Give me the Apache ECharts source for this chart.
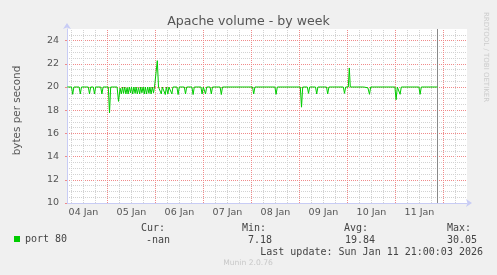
<!DOCTYPE html>
<html><head><meta charset="utf-8">
<script src="https://cdn.jsdelivr.net/npm/echarts@6/dist/echarts.min.js"></script>
<style>html,body{margin:0;padding:0;background:#f0f0f0}#c{width:497px;height:275px}</style>
</head><body><div id="c"></div>
<script>
// hours since 04 Jan 00:00
const hours = [
  3.9,
  6.0, 6.6, 7.2,
  9.8, 10.4, 11.0,
  14.4, 15.0, 15.6,
  16.9, 17.5, 18.1,
  20.6, 21.2, 21.8,
  24.4, 25.0, 25.6,
  28.8, 29.5,
  30.3, 30.9, 31.5, 32.0, 32.6, 33.2, 33.8, 34.3, 34.9, 35.5, 36.0, 36.6, 37.2, 37.8, 38.3, 38.9,
  39.5, 40.1, 40.6, 41.2, 41.8, 42.4, 42.9, 43.5, 44.1, 44.7, 45.2, 45.8, 46.4, 47.0, 47.5,
  48.3, 48.9, 49.5,
  50.4, 50.9, 51.4,
  52.4, 52.9, 53.4,
  53.7, 54.2, 54.7,
  55.7, 56.2, 56.7,
  58.7, 59.3, 59.9,
  62.4, 63.0, 63.6,
  66.2, 66.8, 67.4,
  70.7, 71.3, 71.9,
  72.4, 73.0, 73.6,
  75.3, 75.9, 76.5,
  80.3, 80.9, 81.5,
  96.5, 97.1, 97.7,
  107.7, 108.3, 108.9,
  120.4, 121.0, 121.6,
  123.9, 124.5, 125.1,
  128.0, 128.6, 129.2,
  133.5, 134.1, 134.7,
  141.9, 142.5, 143.1,
  144.4, 144.9, 145.4,
  152.1, 152.4, 154.2, 155.0, 155.6,
  167.7, 168.3, 168.9,
  169.7, 170.3, 170.9,
  179.7, 180.3, 180.9,
  189.0
];
const bytesPerSec = [
  20,
  20, 19.37, 20,
  20, 19.4, 20,
  20, 19.4, 20,
  20, 19.4, 20,
  20, 19.4, 20,
  20, 17.76, 20,
  20, 18.76,
  19.9, 19.4, 20, 19.45, 20, 19.4, 19.95, 19.4, 20, 19.5, 20, 19.4, 20, 19.45, 20, 19.4,
  19.95, 19.4, 20, 19.5, 20, 19.4, 20, 19.4, 20, 19.45, 20, 19.4, 20, 19.5, 20,
  20, 22.27, 20,
  20, 19.4, 20,
  20, 19.35, 20,
  20, 19.4, 20,
  20, 19.4, 20,
  20, 19.35, 20,
  20, 19.4, 20,
  20, 19.35, 20,
  20, 19.4, 20,
  20, 19.4, 20,
  20, 19.4, 20,
  20, 19.35, 20,
  20, 19.4, 20,
  20, 19.37, 20,
  20, 18.26, 20,
  20, 19.45, 20,
  20, 19.4, 20,
  20, 19.4, 20,
  20, 19.45, 20,
  20, 21.64, 20,
  20, 19.93, 19.93, 19.37, 20,
  20, 18.9, 20,
  20, 19.37, 20,
  20, 19.37, 20,
  20
];
const dayLabels = ['04 Jan','05 Jan','06 Jan','07 Jan','08 Jan','09 Jan','10 Jan','11 Jan'];
const dayLabelHours = [12, 36, 60, 84, 108, 132, 156, 180];
const dayBoundaryHours = [24, 48, 72, 96, 120, 144, 168, 192];
const sixHourHours = [6, 12, 18, 30, 36, 42, 54, 60, 66, 78, 84, 90, 102, 108, 114, 126, 132, 138, 150, 156, 162, 174, 180, 186, 198];
const yTickLabels = [10, 12, 14, 16, 18, 20, 22, 24];
const lastUpdateHour = 189;
const legendStats = {cur: '-nan', min: '7.18', avg: '19.84', max: '30.05'};

const SANS = '"DejaVu Sans", sans-serif';
const MONO = '"DejaVu Sans Mono", monospace';
const RED = '#f08a8a';
const GRAY = '#d2d2d2';
const AXIS = '#c8ccf5';
const TXT = '#555555';

const chart = echarts.init(document.getElementById('c'), null, {renderer: 'canvas'});
const xRange = {min: 3.75, max: 203.75};
chart.setOption({
  animation: false,
  backgroundColor: '#f0f0f0',
  textStyle: {fontFamily: SANS},
  title: {
    text: 'Apache volume - by week', left: 'center', top: 10,
    textStyle: {fontFamily: SANS, fontSize: 12.6, fontWeight: 'normal', color: TXT}
  },
  legend: {
    data: ['port 80'], left: 14, top: 234, padding: 0, icon: 'rect', itemWidth: 6, itemHeight: 6,
    selectedMode: false, textStyle: {fontFamily: MONO, fontSize: 10, color: '#444'}
  },
  grid: {left: 67, top: 29, width: 400, height: 174, show: true, backgroundColor: '#ffffff', borderWidth: 0},
  xAxis: {
    type: 'value', min: xRange.min, max: xRange.max, position: 'bottom',
    axisLine: {show: true, lineStyle: {color: AXIS, width: 1}, symbol: ['none', 'arrow'], symbolSize: [6, 6], symbolOffset: [0, 5]},
    axisTick: {show: false},
    axisLabel: {customValues: dayLabelHours, margin: 5, fontFamily: SANS, fontSize: 9.5, color: TXT,
      formatter: v => dayLabels[dayLabelHours.indexOf(Math.round(v))] || ''},
    splitLine: {show: false}
  },
  yAxis: {
    type: 'value', min: 10, max: 25, interval: 2, position: 'left',
    name: 'bytes per second', nameLocation: 'middle', nameGap: 45,
    nameTextStyle: {fontFamily: SANS, fontSize: 10.4, color: TXT, padding: [0, 0, 0, 11]},
    axisLine: {show: true, lineStyle: {color: AXIS, width: 1}, symbol: ['none', 'arrow'], symbolSize: [6, 6], symbolOffset: [0, 6]},
    axisTick: {show: true, length: 2, lineStyle: {color: RED}},
    axisLabel: {margin: 8, fontFamily: SANS, fontSize: 9.5, color: TXT, showMaxLabel: false,
      formatter: v => (yTickLabels.indexOf(v) >= 0 ? String(v) : '')},
    splitLine: {show: true, showMinLine: false, showMaxLine: false, lineStyle: {color: RED, type: [1, 1], width: 1}},
    minorTick: {show: false, splitNumber: 4},
    minorSplitLine: {show: true, lineStyle: {color: GRAY, type: [1, 1], width: 1}}
  },
  series: [{
    name: 'grid6h', type: 'line', data: [], z: 1, silent: true,
    markLine: {
      silent: true, symbol: ['none', 'none'], label: {show: false}, animation: false,
      lineStyle: {color: GRAY, type: [1, 1], width: 1},
      data: sixHourHours.map(h => ({xAxis: h}))
    }
  }, {
    name: 'gridDay', type: 'line', data: [], z: 2, silent: true,
    markLine: {
      silent: true, symbol: ['none', 'none'], label: {show: false}, animation: false,
      lineStyle: {color: RED, type: [1, 1], width: 1},
      data: dayBoundaryHours.map(h => ({xAxis: h}))
    }
  }, {
    name: 'port 80', type: 'line',
    data: hours.map((h, i) => [h, bytesPerSec[i]]),
    showSymbol: false, symbol: 'none', silent: true, z: 5,
    color: '#00cc00',
    lineStyle: {color: '#00cc00', width: 1},
    markLine: {
      silent: true, symbol: ['none', 'none'], label: {show: false},
      lineStyle: {color: '#888888', type: 'solid', width: 1},
      data: [{xAxis: lastUpdateHour}]
    }
  }],
  graphic: [
    {type: 'text', x: 486, y: 57, rotation: -Math.PI / 2,
      style: {text: 'RRDTOOL / TOBI OETIKER', font: '7px "DejaVu Sans"', fill: '#cccccc', align: 'center', verticalAlign: 'middle'}},
    {type: 'text', x: 141, y: 228, style: {text: 'Cur:', font: '10px "DejaVu Sans Mono"', fill: '#444', verticalAlign: 'middle'}},
    {type: 'text', x: 242, y: 228, style: {text: 'Min:', font: '10px "DejaVu Sans Mono"', fill: '#444', verticalAlign: 'middle'}},
    {type: 'text', x: 344, y: 228, style: {text: 'Avg:', font: '10px "DejaVu Sans Mono"', fill: '#444', verticalAlign: 'middle'}},
    {type: 'text', x: 447, y: 228, style: {text: 'Max:', font: '10px "DejaVu Sans Mono"', fill: '#444', verticalAlign: 'middle'}},
    {type: 'text', x: 170, y: 240, style: {text: legendStats.cur, font: '10px "DejaVu Sans Mono"', fill: '#444', align: 'right', verticalAlign: 'middle'}},
    {type: 'text', x: 272, y: 240, style: {text: legendStats.min, font: '10px "DejaVu Sans Mono"', fill: '#444', align: 'right', verticalAlign: 'middle'}},
    {type: 'text', x: 375, y: 240, style: {text: legendStats.avg, font: '10px "DejaVu Sans Mono"', fill: '#444', align: 'right', verticalAlign: 'middle'}},
    {type: 'text', x: 477, y: 240, style: {text: legendStats.max, font: '10px "DejaVu Sans Mono"', fill: '#444', align: 'right', verticalAlign: 'middle'}},
    {type: 'text', x: 483, y: 252, style: {text: 'Last update: Sun Jan 11 21:00:03 2026', font: '10px "DejaVu Sans Mono"', fill: '#444', align: 'right', verticalAlign: 'middle'}},
    {type: 'text', x: 248, y: 263.5, style: {text: 'Munin 2.0.76', font: '7.6px "DejaVu Sans"', fill: '#c8c8c8', align: 'center', verticalAlign: 'middle'}}
  ]
});
</script>
</body></html>
